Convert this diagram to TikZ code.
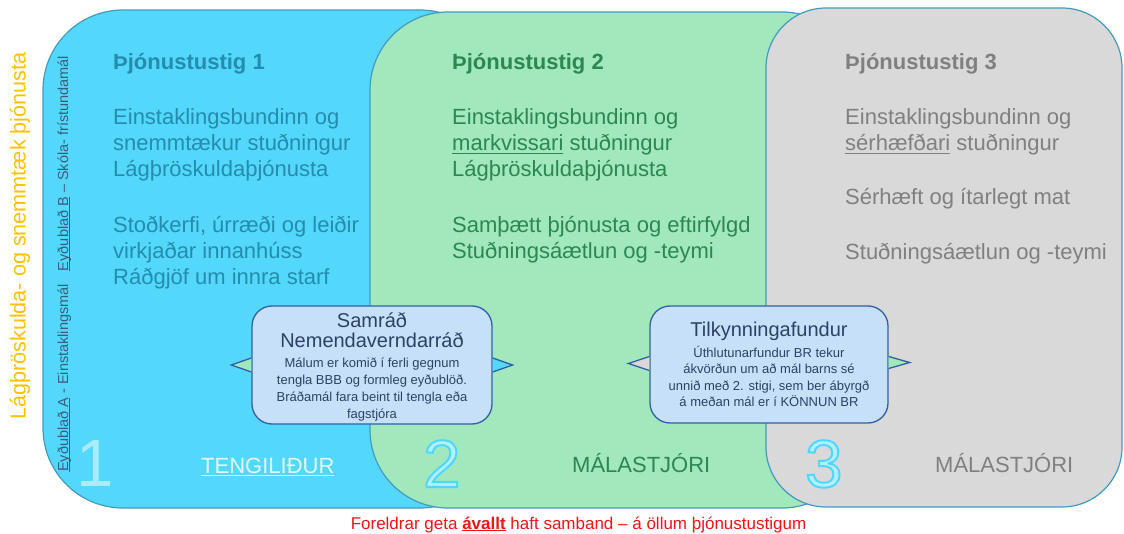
\documentclass[tikz,border=0pt]{standalone}
\usepackage{fontspec}
\setmainfont{Liberation Sans}
\newcommand{\uln}[1]{\setbox0\hbox{#1}\rlap{\rule[-0.14em]{\wd0}{0.06em}}#1}
% outlined digit: fill colour from the node, stroke set by a pdf literal
\newcommand{\outlinedigit}[1]{\special{pdf:code 2 Tr 2 w 0.314 0.843 1 RG}#1\special{pdf:code 0 Tr}}
\definecolor{stigblue}{RGB}{83,216,251}
\definecolor{stiggreen}{RGB}{162,232,189}
\definecolor{stiggray}{RGB}{217,217,217}
\definecolor{edgeteal}{RGB}{66,155,190}
\definecolor{textblue}{RGB}{35,140,175}
\definecolor{textgreen}{RGB}{45,135,80}
\definecolor{textgray}{RGB}{128,128,128}
\definecolor{calloutfill}{RGB}{198,224,250}
\definecolor{calloutedge}{RGB}{50,95,165}
\definecolor{callouttext}{RGB}{45,65,100}
\definecolor{sideorange}{RGB}{255,192,0}
\definecolor{numfill}{RGB}{178,240,255}
\definecolor{alertred}{RGB}{240,20,20}
\begin{document}
\begin{tikzpicture}[x=1pt, y=-1pt,
    panel/.style={draw=edgeteal, line width=1.2pt},
    stig/.style={anchor=base west, align=left, inner sep=0pt, font=\fontsize{22}{26}\selectfont},
    callout/.style={draw=calloutedge, line width=1.3pt, fill=calloutfill, rounded corners=20pt,
        minimum width=240pt, minimum height=118pt, inner sep=0pt},
    tip/.style={draw=calloutedge, line width=1.3pt},
    calltext/.style={anchor=base, align=center, inner sep=0pt, text=callouttext}]
    \useasboundingbox (0,0) rectangle (1124,534);

    % Service levels - three overlapping panels
    \draw[panel, fill=stigblue, rounded corners=80pt] (43,10) rectangle (500,508);
    \draw[panel, fill=stiggreen, rounded corners=78pt] (370,12) rectangle (860,508);
    \draw[panel, fill=stiggray, rounded corners=60pt] (766,8) rectangle (1122,507);

    % Side labels
    \node[rotate=90, anchor=base west, inner sep=0pt, text=sideorange, font=\fontsize{21.6}{24}\selectfont]
        (sidelabel) at (25.5,420) {Lágþröskulda- og snemmtæk þjónusta};
    \node[rotate=90, anchor=base west, inner sep=0pt, text={rgb,255:red,55;green,95;blue,125}, font=\fontsize{14.5}{16}\selectfont]
        (formlabel) at (68,472) {\uln{Eyðublað A} - Einstaklingsmál\hspace{13pt}\uln{Eyðublað B} – Skóla- frístundamál};

    % Level 1 (multi-line nodes sit on their last baseline)
    \node[stig, text=textblue, font=\fontsize{22}{26}\selectfont\bfseries] (head1) at (113,70) {Þjónustustig 1};
    \node[stig, text=textblue] (body1a) at (113,177) {Einstaklingsbundinn og\\snemmtækur stuðningur\\Lágþröskuldaþjónusta};
    \node[stig, text=textblue] (body1b) at (113,285) {Stoðkerfi, úrræði og leiðir\\virkjaðar innanhúss\\Ráðgjöf um innra starf};

    % Level 2
    \node[stig, text=textgreen, font=\fontsize{22}{26}\selectfont\bfseries] (head2) at (452,70) {Þjónustustig 2};
    \node[stig, text=textgreen] (body2a) at (452,177) {Einstaklingsbundinn og\\\uln{markvissari} stuðningur\\Lágþröskuldaþjónusta};
    \node[stig, text=textgreen] (body2b) at (452,259) {Samþætt þjónusta og eftirfylgd\\Stuðningsáætlun og -teymi};

    % Level 3
    \node[stig, text=textgray, font=\fontsize{22}{26}\selectfont\bfseries] (head3) at (845,70) {Þjónustustig 3};
    \node[stig, text=textgray] (body3a) at (845,151) {Einstaklingsbundinn og\\\uln{sérhæfðari} stuðningur};
    \node[stig, text=textgray] (body3b) at (845,205) {Sérhæft og ítarlegt mat};
    \node[stig, text=textgray] (body3c) at (845,260) {Stuðningsáætlun og -teymi};

    % Callout 1
    \node[callout] (box1) at (372,365) {};
    \filldraw[tip, fill=stiggreen] (box1.west) ++(0,-7) -- ++(-20,7) -- ++(20,7);
    \filldraw[tip, fill=stigblue] (box1.east) ++(0,-7) -- ++(20,7) -- ++(-20,7);
    \node[calltext, font=\fontsize{20}{20}\selectfont] (title1) at (372,348) {Samráð\\Nemendaverndarráð};
    \node[calltext, font=\fontsize{13}{16.7}\selectfont] (note1) at (372,418)
        {Málum er komið í ferli gegnum\\tengla BBB og formleg eyðublöð.\\Bráðamál fara beint til tengla eða\\fagstjóra};

    % Callout 2
    \node[callout, minimum width=238pt, minimum height=117pt] (box2) at (769,364.5) {};
    \filldraw[tip, fill=stiggray] (box2.west) ++(0,-8) -- ++(-21,7) -- ++(21,7);
    \filldraw[tip, fill=stiggreen] (box2.east) ++(0,-8) -- ++(21,6) -- ++(-21,6);
    \node[calltext, font=\fontsize{20}{20}\selectfont] (title2) at (769,337) {Tilkynningafundur};
    \node[calltext, font=\fontsize{13}{16.5}\selectfont] (note2) at (769,406.5)
        {Úthlutunarfundur BR tekur\\ákvörðun um að mál barns sé\\unnið með 2. stigi, sem ber ábyrgð\\á meðan mál er í KÖNNUN BR};

    % Level numbers and case roles
    \node[anchor=base west, inner sep=0pt, text={rgb,255:red,170;green,235;blue,255}, font=\fontsize{67}{67}\selectfont]
        (num1) at (76,486) {1};
    \node[anchor=base west, inner sep=0pt, text=numfill, font=\fontsize{67}{67}\selectfont]
        (num2) at (423,487) {\outlinedigit{2}};
    \node[anchor=base west, inner sep=0pt, text=numfill, font=\fontsize{67}{67}\selectfont]
        (num3) at (805,487) {\outlinedigit{3}};
    \node[anchor=base west, inner sep=0pt, text={rgb,255:red,225;green,248;blue,255}, font=\fontsize{22}{24}\selectfont]
        (role1) at (201,473) {\uln{TENGILIÐUR}};
    \node[anchor=base west, inner sep=0pt, text=textgreen, font=\fontsize{22}{24}\selectfont]
        (role2) at (572,472) {MÁLASTJÓRI};
    \node[anchor=base west, inner sep=0pt, text=textgray, font=\fontsize{22}{24}\selectfont]
        (role3) at (935,472) {MÁLASTJÓRI};

    % Parents note
    \node[anchor=base, inner sep=0pt, text=alertred, font=\fontsize{17}{19}\selectfont]
        (parents) at (578.5,529) {Foreldrar geta \uln{\textbf{ávallt}} haft samband – á öllum þjónustustigum};
\end{tikzpicture}
\end{document}
